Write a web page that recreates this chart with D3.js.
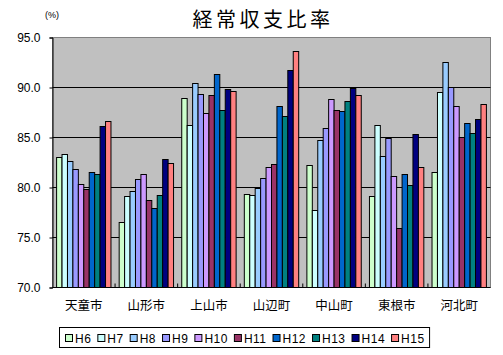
<!DOCTYPE html>
<html><head><meta charset="utf-8">
<script src="https://cdn.jsdelivr.net/npm/d3@7"></script>
<style>
html,body{margin:0;padding:0;background:#fff;}
svg{display:block;}
text{font-family:"Liberation Sans","Noto Sans CJK JP",sans-serif;fill:#000;}
</style></head>
<body>
<svg id="chart" width="503" height="355"></svg>
<script>
const categories = ['天童市','山形市','上山市','山辺町','中山町','東根市','河北町'];
const seriesNames = ['H6','H7','H8','H9','H10','H11','H12','H13','H14','H15'];
const H6  = [83.0,76.5,88.9,79.3,82.2,79.1,81.5];
const H7  = [83.3,79.1,86.2,79.2,77.7,86.2,89.5];
const H8  = [82.6,79.6,90.4,79.9,84.7,83.1,92.5];
const H9  = [81.8,80.8,89.3,80.9,85.9,84.9,90.0];
const H10 = [80.3,81.3,87.4,82.0,88.8,81.1,88.1];
const H11 = [79.8,78.7,89.2,82.3,87.7,75.9,85.0];
const H12 = [81.5,77.9,91.3,88.1,87.6,81.3,86.4];
const H13 = [81.3,79.2,87.7,87.1,88.6,80.2,85.4];
const H14 = [86.1,82.8,89.8,91.7,89.9,85.3,86.8];
const H15 = [86.6,82.4,89.6,93.6,89.2,82.0,88.3];
const seriesValues = [H6,H7,H8,H9,H10,H11,H12,H13,H14,H15];
const colors = ['#CCFFCC','#CCFFFF','#99CCFF','#9999FF','#CC99FF','#993366','#0066CC','#008080','#000080','#FF8080'];
const yTicks = [70,75,80,85,90,95];
const title = '経常収支比率';
const unit = '(%)';

const svg = d3.select('#chart');
const L = 52.5, R = 490.5, T = 37.5, B = 287.5;

const x0 = d3.scaleBand().domain(categories).range([L, R]).paddingInner(0.131).paddingOuter(0.0655);
const x1 = d3.scaleBand().domain(seriesNames).range([0, x0.bandwidth()]).padding(0);
const y = d3.scaleLinear().domain([70, 95]).range([B, T]);

// plot background
svg.append('rect').attr('x', L).attr('y', T).attr('width', R - L).attr('height', B - T)
  .attr('fill', '#C0C0C0').attr('stroke', '#808080').attr('stroke-width', 1);

// gridlines
svg.append('g').selectAll('line').data(yTicks.filter(v => v > 70 && v < 95)).join('line')
  .attr('x1', L).attr('x2', R).attr('y1', d => y(d)).attr('y2', d => y(d))
  .attr('stroke', '#000').attr('stroke-width', 1);

// bars
const data = [];
categories.forEach((c, ci) => seriesNames.forEach((s, si) => data.push({c, s, si, v: seriesValues[si][ci]})));
svg.append('g').selectAll('rect').data(data).join('rect')
  .attr('x', d => x0(d.c) + x1(d.s))
  .attr('y', d => y(d.v))
  .attr('width', x1.bandwidth())
  .attr('height', d => y(70) - y(d.v))
  .attr('fill', d => colors[d.si])
  .attr('stroke', '#000').attr('stroke-width', 1);

// y axis
const yAxis = d3.axisLeft(y).tickValues(yTicks).tickFormat(d3.format('.1f')).tickSize(3).tickPadding(9);
const gy = svg.append('g').attr('transform', `translate(${L},0)`).call(yAxis);
gy.select('.domain').attr('stroke', '#000');
gy.selectAll('text').attr('font-size', 12).attr('font-family', '"Liberation Sans",sans-serif');

// x axis
const gx = svg.append('g').attr('transform', `translate(0,${B})`);
gx.append('line').attr('x1', L).attr('x2', R).attr('y1', 0).attr('y2', 0).attr('stroke', '#000');
gx.selectAll('line.tk').data(categories.slice(1)).join('line').attr('class', 'tk')
  .attr('x1', d => x0(d) - x0.step() * x0.paddingInner() / 2).attr('x2', d => x0(d) - x0.step() * x0.paddingInner() / 2)
  .attr('y1', -4).attr('y2', 0).attr('stroke', '#000');
gx.selectAll('text').data(categories).join('text')
  .attr('x', d => x0(d) + x0.bandwidth() / 2).attr('y', 22)
  .attr('text-anchor', 'middle').attr('font-size', 12.5)
  .attr('font-family', '"Noto Sans CJK JP",sans-serif')
  .text(d => d);

// title
svg.append('text').attr('x', 263).attr('y', 27).attr('text-anchor', 'middle')
  .attr('font-size', 20).attr('letter-spacing', 3.5)
  .attr('font-family', '"Noto Sans CJK JP",sans-serif').text(title);
svg.append('text').attr('x', 52).attr('y', 18).attr('text-anchor', 'middle')
  .attr('font-size', 9).attr('font-family', '"Liberation Sans",sans-serif').text(unit);

// legend
const lg = svg.append('g');
const box = lg.append('rect').attr('x', 59.5).attr('y', 327.5).attr('height', 20)
  .attr('fill', '#fff').attr('stroke', '#000');
let cx = 65;
seriesNames.forEach((s, i) => {
  lg.append('rect').attr('x', cx + 0.5).attr('y', 334.5).attr('width', 7).attr('height', 7)
    .attr('fill', colors[i]).attr('stroke', '#000');
  const t = lg.append('text').attr('x', cx + 10).attr('y', 342.5).attr('font-size', 12)
    .attr('letter-spacing', 0.5).text(s);
  cx += 10 + t.node().getComputedTextLength() + 6;
});
box.attr('width', cx - 59.5 - 1);
</script>
</body></html>
